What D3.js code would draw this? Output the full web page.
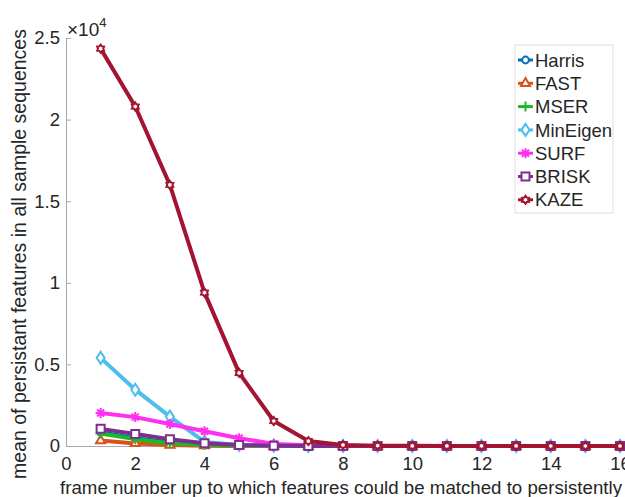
<!DOCTYPE html>
<html>
<head>
<meta charset="utf-8">
<script src="https://cdn.jsdelivr.net/npm/d3@7"></script>
<style>
  body { margin: 0; background: #fff; }
  text { font-family: "Liberation Sans", Arial, sans-serif; fill: #262626; }
</style>
</head>
<body>
<div id="chart"></div>
<script>
// data
let frames = [1, 2, 3, 4, 5, 6, 7, 8, 9, 10, 11, 12, 13, 14, 15, 16];
let harris   = [850, 480, 230, 90, 30, 10, 0, 0, 0, 0, 0, 0, 0, 0, 0, 0];
let fast     = [330, 160, 60, 20, 5, 0, 0, 0, 0, 0, 0, 0, 0, 0, 0, 0];
let mser     = [760, 420, 170, 60, 20, 5, 0, 0, 0, 0, 0, 0, 0, 0, 0, 0];
let minEigen = [5400, 3450, 1800, 250, 60, 20, 5, 0, 0, 0, 0, 0, 0, 0, 0, 0];
let surf     = [2020, 1770, 1350, 900, 480, 130, 40, 10, 0, 0, 0, 0, 0, 0, 0, 0];
let brisk    = [1050, 740, 420, 170, 60, 20, 5, 0, 0, 0, 0, 0, 0, 0, 0, 0];
let kaze     = [24350, 20800, 16000, 9400, 4480, 1530, 300, 60, 20, 10, 5, 5, 5, 0, 0, 0];

let xTicks = [0, 2, 4, 6, 8, 10, 12, 14, 16];
let yTicks = [0, 5000, 10000, 15000, 20000, 25000];

let series = [
    { name: "Harris",   values: harris,   color: "#0072BD", marker: "circle" },
    { name: "FAST",     values: fast,     color: "#D95319", marker: "triangle" },
    { name: "MSER",     values: mser,     color: "#1CB82A", marker: "plus" },
    { name: "MinEigen", values: minEigen, color: "#4DBEEE", marker: "diamond" },
    { name: "SURF",     values: surf,     color: "#FF2EF0", marker: "asterisk" },
    { name: "BRISK",    values: brisk,    color: "#7E2F8E", marker: "square" },
    { name: "KAZE",     values: kaze,     color: "#A2142F", marker: "hexagram" }
];

let margin = { top: 38, right: 5, bottom: 51, left: 66 };
let width = 625 - margin.left - margin.right;
let height = 497 - margin.top - margin.bottom;

let svg = d3.select("#chart").append("svg")
    .attr("width", 625)
    .attr("height", 497)
    .append("g")
    .attr("transform", "translate(" + margin.left + "," + margin.top + ")");

let x = d3.scaleLinear().domain([0, 16]).range([0, 554]);
let y = d3.scaleLinear().domain([0, 25000]).range([height, 0]);

// axes, MATLAB style: ticks point inward
let xAxis = svg.append("g")
    .attr("transform", "translate(0," + height + ")")
    .call(d3.axisBottom(x).tickValues(xTicks).tickSizeInner(-5).tickSizeOuter(0).tickPadding(11));
let yAxis = svg.append("g")
    .call(d3.axisLeft(y).tickValues(yTicks).tickSizeInner(-5).tickSizeOuter(0).tickPadding(6)
        .tickFormat(d => d === 0 ? "0" : d3.format("")(d / 10000)));

[xAxis, yAxis].forEach(function(a) {
    a.select(".domain").attr("stroke", "#a8a8a8");
    a.selectAll(".tick line").attr("stroke", "#a8a8a8");
    a.selectAll(".tick text").style("font-size", "18.5px").attr("fill", "#262626");
});
xAxis.selectAll(".tick text").attr("dy", "0.71em");

// exponent label
let expo = svg.append("text")
    .attr("x", 1)
    .attr("y", -2)
    .style("font-size", "19px");
expo.append("tspan").text("\u00d710");
expo.append("tspan").attr("dy", -9).style("font-size", "13px").text("4");

// axis titles
svg.append("text")
    .attr("x", 275)
    .attr("y", height + 48)
    .attr("text-anchor", "middle")
    .style("font-size", "18.7px")
    .text("frame number up to which features could be matched to persistently");

svg.append("text")
    .attr("transform", "translate(" + (-40) + "," + 216 + ") rotate(-90)")
    .attr("text-anchor", "middle")
    .style("font-size", "19.5px")
    .text("mean of persistant features in all sample sequences");

// marker paths
function markerPath(type) {
    if (type === "circle") return d3.symbol(d3.symbolCircle, 36)();
    if (type === "triangle") return d3.symbol(d3.symbolTriangle, 36)();
    if (type === "diamond") return "M0,-6L4,0L0,6L-4,0Z";
    if (type === "square") return "M-4,-4L4,-4L4,4L-4,4Z";
    if (type === "plus") return "M-5,0L5,0M0,-5L0,5";
    if (type === "asterisk") return "M-5,0L5,0M0,-5L0,5M-3.5,-3.5L3.5,3.5M-3.5,3.5L3.5,-3.5";
    if (type === "hexagram") {
        let pts = [];
        for (let i = 0; i < 12; i++) {
            let r = i % 2 === 0 ? 4 : 2.6;
            let a = Math.PI / 6 * i - Math.PI / 2;
            pts.push([r * Math.cos(a), r * Math.sin(a)]);
        }
        return "M" + pts.map(p => p[0].toFixed(2) + "," + p[1].toFixed(2)).join("L") + "Z";
    }
}

let line = d3.line()
    .x(d => x(d[0]))
    .y(d => y(d[1]));

series.forEach(function(s) {
    let pts = frames.map((f, i) => [f, s.values[i]]);
    let g = svg.append("g");
    g.append("path")
        .datum(pts)
        .attr("d", line)
        .attr("fill", "none")
        .attr("stroke", s.color)
        .attr("stroke-width", 4)
        .attr("stroke-linejoin", "round");
    let open = s.marker !== "plus" && s.marker !== "asterisk";
    g.selectAll("path.m")
        .data(pts)
        .enter().append("path")
        .attr("class", "m")
        .attr("d", markerPath(s.marker))
        .attr("transform", d => "translate(" + x(d[0]) + "," + y(d[1]) + ")")
        .attr("fill", open ? "#fff" : "none")
        .attr("stroke", s.color)
        .attr("stroke-width", 2);
});

// legend
let legend = svg.append("g").attr("transform", "translate(" + (515 - margin.left) + "," + (45 - margin.top) + ")");
legend.append("rect")
    .attr("width", 98)
    .attr("height", 168)
    .attr("fill", "#fff")
    .attr("stroke", "#e0e0e0");
series.forEach(function(s, i) {
    let ly = 15 + i * 23.3;
    legend.append("line")
        .attr("x1", 3).attr("x2", 18)
        .attr("y1", ly).attr("y2", ly)
        .attr("stroke", s.color).attr("stroke-width", 3);
    let open = s.marker !== "plus" && s.marker !== "asterisk";
    legend.append("path")
        .attr("d", markerPath(s.marker))
        .attr("transform", "translate(10.5," + ly + ")")
        .attr("fill", open ? "#fff" : "none")
        .attr("stroke", s.color)
        .attr("stroke-width", 2);
    legend.append("text")
        .attr("x", 20)
        .attr("y", ly)
        .attr("dy", "0.36em")
        .style("font-size", "18.5px")
        .text(s.name);
});
</script>
</body>
</html>
